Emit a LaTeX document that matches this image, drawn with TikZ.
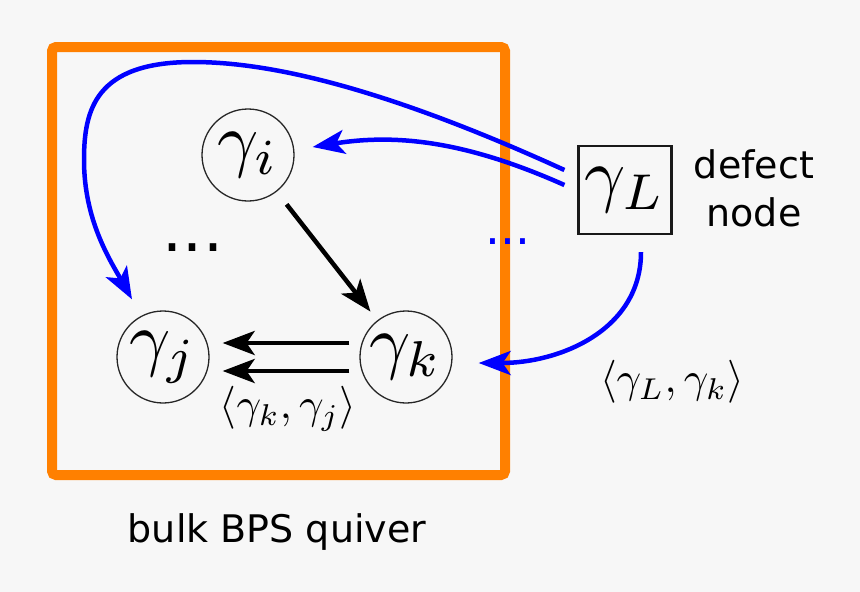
\documentclass[tikz,border=0pt]{standalone}
\usepackage{fontspec}
\newfontfamily\dejavu{DejaVu Sans}
\usetikzlibrary{arrows.meta}
\definecolor{bgc}{HTML}{F7F7F7}
\definecolor{orng}{HTML}{FF8000}
\definecolor{blu}{HTML}{0000FF}
\newcommand{\qbigmath}[1]{\scalebox{7.2}{$#1$}}
\newcommand{\qlabmath}[1]{\scalebox{4.3}{$#1$}}
\begin{document}
\begin{tikzpicture}[x=1pt,y=-1pt,
 bignode/.style={inner sep=0pt},
 qnode/.style={bignode, circle, draw=black!85, line width=1.3pt, minimum size=92pt},
 dnode/.style={bignode, rectangle, draw=black!90, line width=2.2pt, minimum width=93pt, minimum height=88pt},
 blk/.style={line width=4.5pt, -{Stealth[length=32pt,width=24pt,inset=8pt]}},
 blarrow/.style={draw=blu, line width=4.5pt, -{Stealth[length=32pt,width=24pt,inset=8pt]}},
 lbl/.style={inner sep=0pt},
 sans/.style={font=\dejavu\fontsize{38}{48}\selectfont, align=center, inner sep=0pt}]
\fill[bgc] (0,0) rectangle (860,592);
\useasboundingbox (0,0) rectangle (860,592);
% bulk box
\draw[orng, line width=10pt, rounded corners=4pt] (52,47) rectangle (505,475);
% nodes
\node[qnode] (gi) at (248,155) {\qbigmath{\gamma_i}};
\node[qnode] (gj) at (163,357) {\qbigmath{\gamma_j}};
\node[qnode] (gk) at (406,357) {\qbigmath{\gamma_k}};
\node[dnode] (gL) at (625,190) {\qbigmath{\gamma_L}};
\node[font=\dejavu\fontsize{63}{70}\selectfont, inner sep=0pt] (dots) at (193,248) {...};
\node[font=\dejavu\fontsize{47}{50}\selectfont, text=blu, inner sep=0pt] (bdots) at (508,242) {...};
\node[lbl] (lkj) at (288,409) {\qlabmath{\langle\gamma_k,\gamma_j\rangle}};
\node[lbl] (lLk) at (672,382) {\qlabmath{\langle\gamma_L,\gamma_k\rangle}};
\node[sans] (defect) at (754,188) {defect\\node};
\node[sans, anchor=base] (bulk) at (277,542) {bulk BPS quiver};
% black arrows
\draw[blk, shorten <=16pt, shorten >=11pt] (gi) -- (gk);
\draw[blk] ([xshift=-10pt,yshift=14pt]gk.west) -- ([xshift=13pt,yshift=14pt]gj.east);
\draw[blk] ([xshift=-10pt,yshift=-14pt]gk.west) -- ([xshift=13pt,yshift=-14pt]gj.east);
% blue arrows
\coordinate (Lup) at ([xshift=-13pt,yshift=20pt]gL.west);
\coordinate (Llo) at ([xshift=-13pt,yshift=5pt]gL.west);
\coordinate (Lbot) at ([xshift=16pt,yshift=-17pt]gL.south);
\draw[blarrow] (Llo) .. controls (470,143) and (400,133) .. ([xshift=18pt,yshift=8pt]gi.east);
\draw[blarrow] (Lup) .. controls (400,95) and (280,62) .. (193,62)
  .. controls (95,62) and (84,110) .. (84,160)
  .. controls (84,220) and (110,260) .. ([xshift=-31pt,yshift=11pt]gj.north);
\draw[blarrow] (Lbot) .. controls (641,330) and (560,363) .. ([xshift=26pt,yshift=-6pt]gk.east);
\end{tikzpicture}
\end{document}
